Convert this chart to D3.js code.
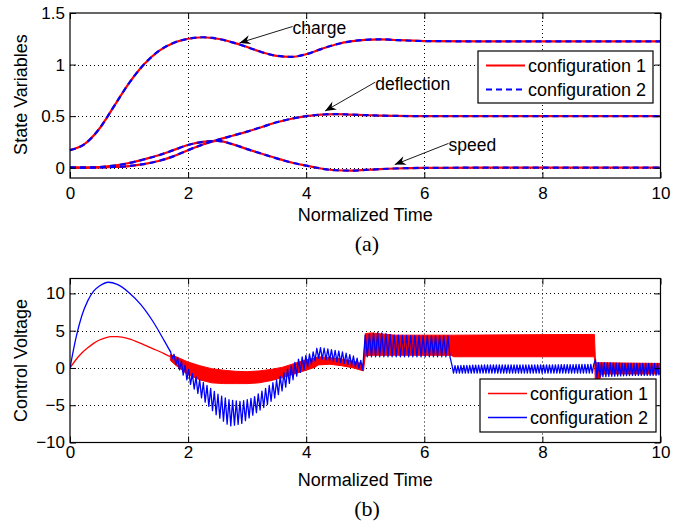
<!DOCTYPE html>
<html>
<head>
<meta charset="utf-8">
<script src="https://cdn.jsdelivr.net/npm/d3@7"></script>
<style>
body { margin: 0; background: #fff; }
svg { display: block; font-family: "Liberation Sans", Arial, Helvetica, sans-serif; }
</style>
</head>
<body>
<svg id="fig" width="684" height="527"></svg>
<script>
// ---- panel (a): state variables, both configurations overlap ----
const stateT     = [0, 0.25, 0.5, 0.75, 1, 1.25, 1.5, 1.75, 2, 2.25, 2.5, 2.75, 3, 3.25, 3.5, 3.75, 4, 4.25, 4.5, 4.75, 5, 5.25, 5.5, 6, 7, 8, 9, 10];
const charge     = [0.17, 0.23, 0.38, 0.6, 0.82, 1.0, 1.13, 1.21, 1.25, 1.265, 1.25, 1.215, 1.17, 1.12, 1.085, 1.075, 1.1, 1.15, 1.195, 1.225, 1.24, 1.245, 1.238, 1.228, 1.225, 1.225, 1.225, 1.225];
const deflection = [0, 0, 0.002, 0.007, 0.016, 0.035, 0.065, 0.11, 0.17, 0.225, 0.27, 0.31, 0.35, 0.395, 0.44, 0.475, 0.5, 0.515, 0.52, 0.515, 0.51, 0.505, 0.502, 0.5, 0.5, 0.5, 0.5, 0.5];
const speed      = [0, 0.001, 0.006, 0.02, 0.045, 0.08, 0.12, 0.17, 0.22, 0.25, 0.26, 0.228, 0.18, 0.135, 0.09, 0.05, 0.02, -0.008, -0.025, -0.028, -0.022, -0.014, -0.008, -0.002, 0, 0, 0, 0];

const noteLabels = ["charge", "deflection", "speed"];
const noteTextT  = [3.77, 5.17, 6.41];
const noteTextV  = [1.35, 0.81, 0.216];
const noteHeadT  = [2.87, 4.32, 5.5];
const noteHeadV  = [1.21, 0.55, 0.03];

// ---- panel (b): control voltage ----
const redT0  = [0, 0.1, 0.2, 0.3, 0.4, 0.5, 0.6, 0.7, 0.8, 1.0, 1.2, 1.4, 1.6, 1.7];
const red0   = [0, 1.1, 2.0, 2.7, 3.3, 3.75, 4.05, 4.2, 4.2, 3.9, 3.3, 2.6, 1.9, 1.5];
const blueT0 = [0, 0.1, 0.2, 0.3, 0.4, 0.5, 0.65, 0.8, 1.0, 1.2, 1.4, 1.6, 1.7];
const blue0  = [0, 4.0, 7.0, 9.0, 10.3, 11.0, 11.5, 11.2, 10.1, 8.5, 6.3, 3.6, 2.2];

// chattering part of configuration 1: upper / lower edge of the band
const redEnvT  = [1.7, 1.8, 2.0, 2.2, 2.4, 2.6, 2.8, 3.0, 3.2, 3.4, 3.6, 3.8, 4.0, 4.15, 4.2, 4.4, 4.6, 4.8, 4.97, 5.0, 5.1, 5.5, 6.45, 6.5, 8.88, 8.9, 8.95, 9.0, 10];
const redEnvHi = [1.8, 1.5, 0.8, 0.3, -0.1, -0.3, -0.45, -0.5, -0.4, -0.2, 0.1, 0.6, 1.1, 1.3, 1.5, 1.4, 1.2, 0.9, 0.5, 4.6, 4.7, 4.4, 4.4, 4.4, 4.5, 0.7, 0.7, 0.7, 0.6];
const redEnvLo = [1.0, 0.3, -0.9, -1.6, -2.0, -2.1, -2.1, -2.1, -2.0, -1.7, -1.3, -0.8, -0.3, 0.1, 0.4, 0.5, 0.3, 0.0, -0.4, 1.6, 1.7, 1.7, 1.7, 1.5, 1.5, -2.5, -2.0, -0.8, -0.8];

// chattering part of configuration 2: peaks / troughs and period per phase
const blueEnvT  = [1.7, 1.9, 2.1, 2.3, 2.5, 2.7, 2.9, 3.1, 3.3, 3.5, 3.7, 3.9, 4.1, 4.2, 4.4, 4.6, 4.8, 4.97, 5.0, 5.2, 5.5, 6.0, 6.45, 6.47, 7.0, 8.0, 8.88, 8.9, 8.95, 9.5, 10];
const blueEnvHi = [2.3, 0.8, -1.0, -2.2, -3.5, -4.3, -4.5, -4.0, -2.8, -1.6, 0.0, 1.4, 2.0, 2.8, 2.5, 2.2, 1.6, 0.8, 4.4, 4.8, 4.4, 4.3, 4.3, 0.3, 0.4, 0.4, 0.5, 1.1, 0.7, 0.6, 0.6];
const blueEnvLo = [1.6, -0.8, -2.8, -4.7, -6.5, -7.8, -7.5, -6.3, -5.2, -3.8, -2.2, -0.6, 0.6, 1.3, 1.0, 0.7, 0.3, -0.3, 1.5, 1.5, 1.5, 1.5, 1.5, -0.7, -0.7, -0.7, -0.7, -1.5, -1.2, -1.0, -1.0];
const bluePhaseStart = [1.7, 5.0, 6.47, 8.9];
const bluePhaseEnd   = [4.97, 6.45, 8.88, 10];
const bluePeriod     = [0.062, 0.07, 0.05, 0.05];

const legendNames = ["configuration 1", "configuration 2"];
const xTicks  = [0, 2, 4, 6, 8, 10];
const yTicksA = [0, 0.5, 1, 1.5];
const yTicksB = [-10, -5, 0, 5, 10];

const RED = "#ff0000", BLUE = "#0000ff";
const svg = d3.select("#fig");

const x  = d3.scaleLinear([0, 10], [70, 660.5]);
const yA = d3.scaleLinear([-0.1, 1.5], [178, 13]);
const yB = d3.scaleLinear([-10, 12], [442.5, 278.5]);

svg.append("rect").attr("width", 684).attr("height", 527).attr("fill", "#fff");

const defs = svg.append("defs");
defs.append("marker")
    .attr("id", "head")
    .attr("viewBox", "-12 -5 13 10")
    .attr("refX", 0).attr("refY", 0)
    .attr("markerWidth", 13).attr("markerHeight", 10)
    .attr("markerUnits", "userSpaceOnUse")
    .attr("orient", "auto")
    .append("path")
    .attr("d", "M0,0L-11,-4.5L-7.5,0L-11,4.5Z")
    .attr("fill", "#000");

function grid(y, yTicks) {
    const g = svg.append("g").attr("stroke", "#000").attr("stroke-width", 1).attr("stroke-dasharray", "1,3");
    const [y0, y1] = y.range();
    g.selectAll("line.gx").data(xTicks.filter(d => d > 0 && d < 10)).join("line")
        .attr("class", "gx")
        .attr("x1", d => Math.round(x(d)) + 0.5).attr("x2", d => Math.round(x(d)) + 0.5)
        .attr("y1", y0).attr("y2", y1);
    const dom = y.domain();
    g.selectAll("line.gy").data(yTicks.filter(d => d > dom[0] && d < dom[1])).join("line")
        .attr("class", "gy")
        .attr("x1", x.range()[0]).attr("x2", x.range()[1])
        .attr("y1", d => Math.round(y(d)) + 0.5).attr("y2", d => Math.round(y(d)) + 0.5);
}

function frame(y, yTicks, yFmt, xPad) {
    const [y0, y1] = y.range();
    const [x0, x1] = x.range();
    const bottom = svg.append("g").attr("transform", `translate(0,${y0})`)
        .call(d3.axisBottom(x).tickValues(xTicks).tickSize(-6).tickPadding(xPad).tickFormat(d3.format("~g")));
    const top = svg.append("g").attr("transform", `translate(0,${y1})`)
        .call(d3.axisTop(x).tickValues(xTicks).tickSize(-6).tickFormat(""));
    const left = svg.append("g").attr("transform", `translate(${x0},0)`)
        .call(d3.axisLeft(y).tickValues(yTicks).tickSize(-6).tickPadding(5).tickFormat(yFmt));
    const right = svg.append("g").attr("transform", `translate(${x1},0)`)
        .call(d3.axisRight(y).tickValues(yTicks).tickSize(-6).tickFormat(""));
    [bottom, top, left, right].forEach(a => {
        a.select(".domain").remove();
        a.selectAll("text").attr("font-size", 17).attr("font-family", "Liberation Sans, Arial, sans-serif").attr("fill", "#000");
        a.selectAll("line").attr("stroke", "#000");
    });
    svg.append("rect")
        .attr("x", x0).attr("y", y1).attr("width", x1 - x0).attr("height", y0 - y1)
        .attr("fill", "none").attr("stroke", "#000").attr("stroke-width", 1.2);
}

function legend(x0, y0, w, h, styles) {
    const g = svg.append("g");
    g.append("rect").attr("x", x0).attr("y", y0).attr("width", w).attr("height", h)
        .attr("fill", "#fff").attr("stroke", "#000").attr("stroke-width", 1.2);
    legendNames.forEach((name, i) => {
        const yy = y0 + 14.5 + i * 24;
        g.append("line").attr("x1", x0 + 8).attr("x2", x0 + 47).attr("y1", yy).attr("y2", yy)
            .attr("stroke", styles[i].color).attr("stroke-width", styles[i].width)
            .attr("stroke-dasharray", styles[i].dash || null);
        g.append("text").attr("x", x0 + 50).attr("y", yy).attr("dy", "0.36em")
            .attr("font-size", 18).text(name);
    });
}

// ================= panel (a) =================
grid(yA, yTicksA);

const lineA = d3.line().x((d, i) => x(stateT[i])).y(d => yA(d)).curve(d3.curveMonotoneX);
[charge, deflection, speed].forEach(series => {
    svg.append("path").datum(series).attr("d", lineA)
        .attr("fill", "none").attr("stroke", RED).attr("stroke-width", 2.2);
});
[charge, deflection, speed].forEach(series => {
    svg.append("path").datum(series).attr("d", lineA)
        .attr("fill", "none").attr("stroke", BLUE).attr("stroke-width", 2.2)
        .attr("stroke-dasharray", "6,4");
});

noteLabels.forEach((label, i) => {
    const tx = x(noteTextT[i]), ty = yA(noteTextV[i]);
    svg.append("line")
        .attr("x1", tx).attr("y1", ty - 2)
        .attr("x2", x(noteHeadT[i])).attr("y2", yA(noteHeadV[i]))
        .attr("stroke", "#000").attr("stroke-width", 0.9)
        .attr("marker-end", "url(#head)");
    svg.append("text").attr("x", tx).attr("y", ty).attr("dy", "0.33em")
        .attr("font-size", 17.5).text(label);
});

frame(yA, yTicksA, d3.format("~g"), 9);
legend(478, 51, 175, 52, [
    { color: RED, width: 2.2 },
    { color: BLUE, width: 2.2, dash: "6,4" }
]);

svg.append("text").attr("x", x(5)).attr("y", 221).attr("text-anchor", "middle")
    .attr("font-size", 18).text("Normalized Time");
svg.append("text").attr("transform", `translate(27,${(yA.range()[0] + yA.range()[1]) / 2 - 1}) rotate(-90)`)
    .attr("text-anchor", "middle").attr("font-size", 18).text("State Variables");
svg.append("text").attr("x", 367).attr("y", 251).attr("text-anchor", "middle")
    .attr("font-family", "Liberation Serif, Times New Roman, serif").attr("font-size", 22).text("(a)");

// ================= panel (b) =================
grid(yB, yTicksB);

const clip = defs.append("clipPath").attr("id", "clipB");
clip.append("rect").attr("x", x.range()[0]).attr("y", yB.range()[1])
    .attr("width", x.range()[1] - x.range()[0]).attr("height", yB.range()[0] - yB.range()[1]);
const gB = svg.append("g").attr("clip-path", "url(#clipB)");

// configuration 1
gB.append("path")
    .datum(redEnvT.map((t, i) => [t, redEnvLo[i], redEnvHi[i]]))
    .attr("d", d3.area().x(d => x(d[0])).y0(d => yB(d[1])).y1(d => yB(d[2])))
    .attr("fill", RED).attr("stroke", RED).attr("stroke-width", 1);
gB.append("path")
    .datum(redT0.map((t, i) => [t, red0[i]]))
    .attr("d", d3.line().x(d => x(d[0])).y(d => yB(d[1])).curve(d3.curveMonotoneX))
    .attr("fill", "none").attr("stroke", RED).attr("stroke-width", 1.3);

// configuration 2: smooth start, then zig-zag between the read peaks and troughs
const bluePts = blueT0.map((t, i) => [t, blue0[i]]);
const blueSmooth = d3.line().x(d => x(d[0])).y(d => yB(d[1])).curve(d3.curveMonotoneX)(bluePts);
const zig = [];
bluePhaseStart.forEach((t0, p) => {
    const t1 = bluePhaseEnd[p];
    const idx = blueEnvT.map((t, i) => i).filter(i => blueEnvT[i] >= t0 && blueEnvT[i] <= t1);
    const hiAt = d3.scaleLinear(idx.map(i => blueEnvT[i]), idx.map(i => blueEnvHi[i])).clamp(true);
    const loAt = d3.scaleLinear(idx.map(i => blueEnvT[i]), idx.map(i => blueEnvLo[i])).clamp(true);
    const half = bluePeriod[p] / 2;
    const n = Math.floor((t1 - t0) / half);
    for (let k = 0; k <= n; k++) {
        const t = t0 + k * half;
        zig.push([t, k % 2 ? loAt(t) : hiAt(t)]);
    }
});
gB.append("path")
    .attr("d", blueSmooth + d3.line().x(d => x(d[0])).y(d => yB(d[1]))(zig).replace(/^M/, "L"))
    .attr("fill", "none").attr("stroke", BLUE).attr("stroke-width", 1.3)
    .attr("stroke-linejoin", "round");

frame(yB, yTicksB, d3.format("~g"), 3);
legend(480, 379, 176, 53, [
    { color: RED, width: 1.3 },
    { color: BLUE, width: 1.3 }
]);

svg.append("text").attr("x", x(5)).attr("y", 486).attr("text-anchor", "middle")
    .attr("font-size", 18).text("Normalized Time");
svg.append("text").attr("transform", `translate(27,${(yB.range()[0] + yB.range()[1]) / 2}) rotate(-90)`)
    .attr("text-anchor", "middle").attr("font-size", 18).text("Control Voltage");
svg.append("text").attr("x", 367).attr("y", 516).attr("text-anchor", "middle")
    .attr("font-family", "Liberation Serif, Times New Roman, serif").attr("font-size", 22).text("(b)");
</script>
</body>
</html>
